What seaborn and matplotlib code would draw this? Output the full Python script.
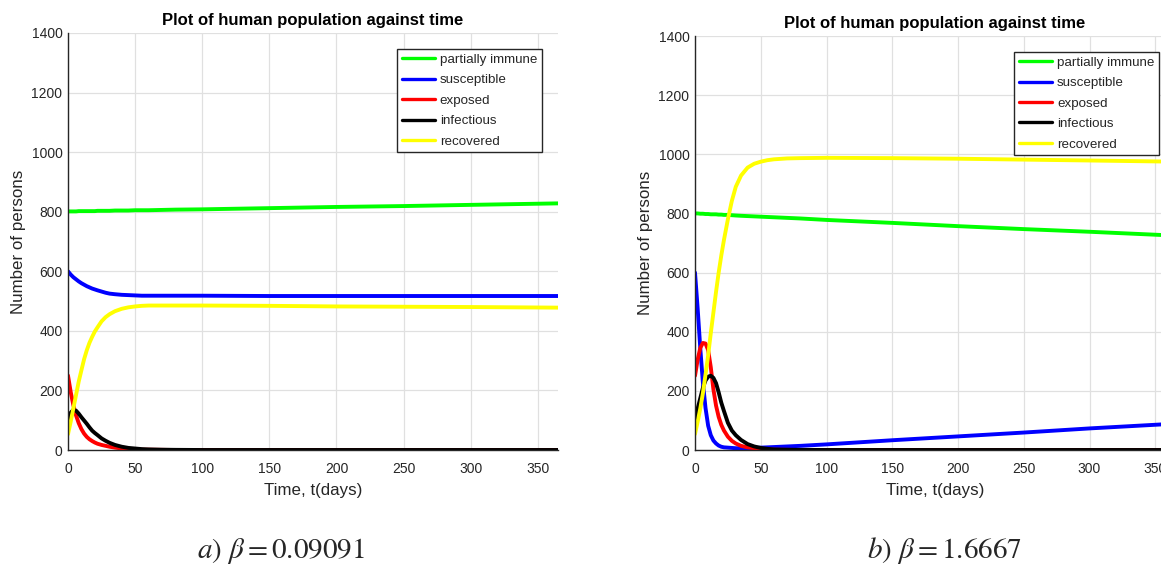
import numpy as np
import pandas as pd
import matplotlib
matplotlib.use("Agg")
import matplotlib.pyplot as plt
import seaborn as sns

# ---------------- data ----------------
t_days = [0, 2, 4, 6, 8, 10, 12, 14, 16, 18, 20, 22, 25, 28, 31, 35, 40, 45,
          50, 55, 60, 70, 80, 100, 150, 200, 250, 300, 365]

series_names = ["partially immune", "susceptible", "exposed", "infectious", "recovered"]
series_colors = ["#00ff00", "#0000ff", "#ff0000", "#000000", "#ffff00"]

# panel a) beta = 0.09091
a_partial = [801, 801, 801, 801, 802, 802, 802, 802, 802, 802, 802, 803, 803, 803, 803,
             804, 804, 804, 805, 805, 805, 806, 807, 808, 812, 816, 819, 823, 828]
a_susc = [600, 589, 580, 573, 566, 560, 555, 550, 546, 542, 539, 536, 532, 528, 525,
          523, 521, 520, 519, 518, 518, 518, 518, 518, 517, 517, 517, 517, 517]
a_exp = [250, 195, 150, 116, 90, 70, 55, 44, 36, 30, 25, 21, 17, 14, 11,
         8, 5, 3, 2, 1, 1, 0.5, 0, 0, 0, 0, 0, 0, 0]
a_inf = [104, 125, 135, 132, 122, 110, 99, 88, 76, 65, 57, 50, 39, 31, 24,
         17, 11, 7, 5, 3, 2, 1, 0.5, 0, 0, 0, 0, 0, 0]
a_rec = [53, 95, 140, 185, 230, 268, 305, 335, 360, 380, 398, 412, 432, 446, 456,
         466, 474, 479, 482, 484, 485, 485, 485, 485, 484, 482, 481, 480, 478]

# panel b) beta = 1.6667
b_partial = [800, 800, 799, 799, 798, 798, 797, 797, 797, 796, 796, 795, 795, 794, 793,
             792, 791, 790, 789, 788, 787, 785, 783, 778, 768, 757, 747, 738, 725]
b_susc = [600, 480, 345, 228, 142, 82, 50, 32, 22, 15, 11, 9, 8, 7, 6,
          6, 6, 7, 8, 9, 10, 12, 14, 19, 33, 46, 59, 73, 89]
b_exp = [251, 305, 345, 362, 360, 338, 280, 205, 150, 112, 85, 66, 45, 31, 22,
         14, 9, 6, 4, 2, 1, 0.5, 0, 0, 0, 0, 0, 0, 0]
b_inf = [105, 140, 175, 210, 235, 248, 251, 244, 226, 195, 160, 132, 92, 66, 50,
         34, 20, 12, 7, 4, 2, 1, 0.5, 0, 0, 0, 0, 0, 0]
b_rec = [54, 95, 140, 192, 255, 320, 395, 465, 535, 600, 658, 710, 780, 842, 890,
         928, 955, 968, 975, 980, 983, 986, 987, 988, 987, 985, 982, 979, 975]

x_ticks = [0, 50, 100, 150, 200, 250, 300, 350]
y_ticks = [0, 200, 400, 600, 800, 1000, 1200, 1400]
title_text = "Plot of human population against time"
xlabel_text = "Time, t(days)"
ylabel_text = "Number of persons"
captions = [r"$a)\ \beta = 0.09091$", r"$b)\ \beta = 1.6667$"]


def long_frame(values):
    rows = []
    for name, vals in zip(series_names, values):
        for tt, vv in zip(t_days, vals):
            rows.append({"t": tt, "v": vv, "series": name})
    return pd.DataFrame(rows)


panel_a = long_frame([a_partial, a_susc, a_exp, a_inf, a_rec])
panel_b = long_frame([b_partial, b_susc, b_exp, b_inf, b_rec])

# ---------------- style ----------------
sns.set_style("white")
plt.rcParams["font.family"] = ["Liberation Sans", "DejaVu Sans"]
plt.rcParams["mathtext.fontset"] = "stix"

W, H = 1161, 565
fig = plt.figure(figsize=(W / 100, H / 100), dpi=100)
fig.patch.set_facecolor("white")

ax_a = fig.add_axes([68 / W, (H - 450) / H, 490 / W, 417 / H])
ax_b = fig.add_axes([695 / W, (H - 450) / H, 480 / W, 414 / H])

palette = dict(zip(series_names, series_colors))

for ax, df in [(ax_a, panel_a), (ax_b, panel_b)]:
    sns.lineplot(data=df, x="t", y="v", hue="series", hue_order=series_names,
                 palette=palette, linewidth=2.8, ax=ax, sort=False,
                 estimator=None, legend=True)
    ax.set_xlim(0, 365)
    ax.set_ylim(0, 1400)
    ax.set_xticks(x_ticks)
    ax.set_yticks(y_ticks)
    ax.grid(True, color="#e0e0e0", linewidth=0.9)
    ax.set_axisbelow(True)
    for s in ["top", "right"]:
        ax.spines[s].set_visible(False)
    for s in ["left", "bottom"]:
        ax.spines[s].set_color("#262626")
        ax.spines[s].set_linewidth(1.0)
    ax.tick_params(direction="in", length=4, width=0.9, colors="#262626",
                   labelsize=10)
    ax.tick_params(axis="y", pad=4)
    ax.tick_params(axis="x", pad=8.5)
    ax.set_title(title_text, fontsize=12, fontweight="bold", color="black", pad=6)
    ax.set_xlabel(xlabel_text, fontsize=12.2, color="#262626", labelpad=5)
    ax.set_ylabel(ylabel_text, fontsize=12.2, color="#262626", labelpad=4)
    handles, labels = ax.get_legend_handles_labels()
    leg = ax.legend(handles, labels, loc="upper right",
                    bbox_to_anchor=(0.967, 0.962), borderaxespad=0,
                    fontsize=9.6, frameon=True, fancybox=False, framealpha=1,
                    edgecolor="#262626", handlelength=2.5, handletextpad=0.35,
                    labelspacing=0.61, borderpad=0.35)
    leg.get_frame().set_linewidth(1.0)
    for ln in leg.get_lines():
        ln.set_linewidth(2.4)

fig.text(281 / W, 1 - 551 / H, captions[0], fontsize=21, ha="center", va="center")
fig.text(945 / W, 1 - 551 / H, captions[1], fontsize=21, ha="center", va="center")

fig.savefig("out.png", dpi=100, facecolor="white")
